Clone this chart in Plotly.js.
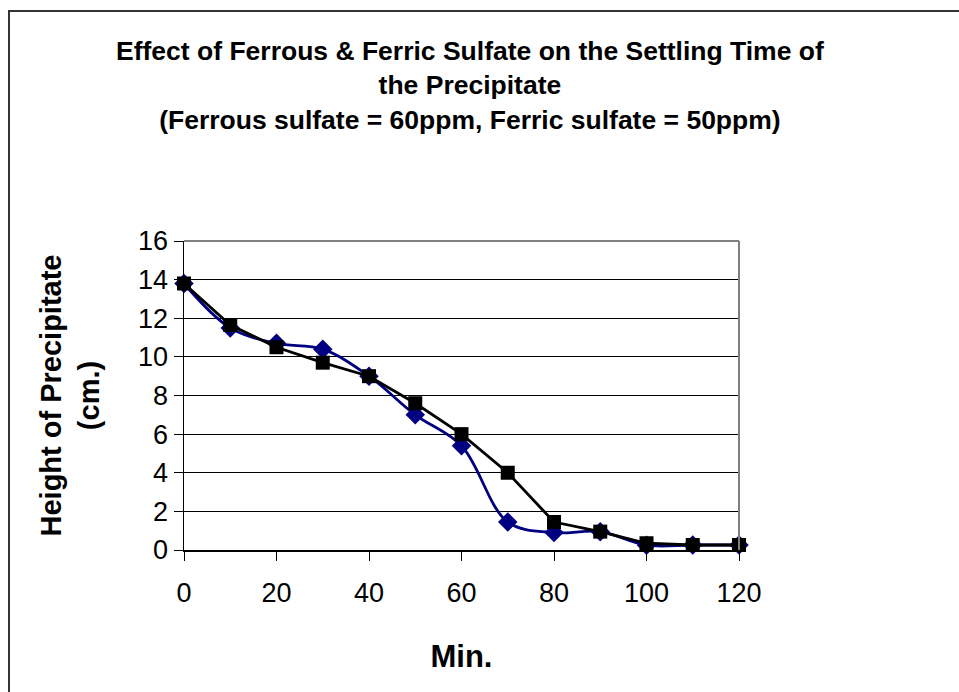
<!DOCTYPE html>
<html>
<head>
<meta charset="utf-8">
<script src="https://cdn.plot.ly/plotly-3.0.1.min.js"></script>
<style>
  html, body { margin: 0; padding: 0; overflow: hidden; background: #fff; }
  #chart { width: 959px; height: 692px; }
  #frame { position: absolute; left: 8px; top: 10px; width: 1200px; height: 1200px;
           border-left: 2px solid #333; border-top: 2px solid #333; pointer-events: none; }
</style>
</head>
<body>
<div id="chart"></div>
<div id="frame"></div>
<script>
const minutes = [0, 10, 20, 30, 40, 50, 60, 70, 80, 90, 100, 110, 120];
const ferrousHeight = [13.8, 11.5, 10.7, 10.4, 9.0, 7.0, 5.4, 1.45, 0.9, 0.95, 0.25, 0.26, 0.26];
const ferricHeight = [13.8, 11.65, 10.5, 9.7, 9.0, 7.6, 6.0, 4.0, 1.45, 0.95, 0.35, 0.26, 0.26];
const xTicks = [0, 20, 40, 60, 80, 100, 120];
const yTicks = [0, 2, 4, 6, 8, 10, 12, 14, 16];

const font = "Liberation Sans, Arial, sans-serif";

const traces = [
  {
    x: minutes, y: ferrousHeight, name: "Ferrous sulfate = 60ppm",
    type: "scatter", mode: "lines+markers",
    line: { color: "#000080", width: 2.8, shape: "spline", smoothing: 1 },
    marker: { symbol: "diamond", size: 15, color: "#000080" },
    cliponaxis: false
  },
  {
    x: minutes, y: ferricHeight, name: "Ferric sulfate = 50ppm",
    type: "scatter", mode: "lines+markers",
    line: { color: "#000000", width: 2.8 },
    marker: { symbol: "square", size: 14, color: "#000000" },
    cliponaxis: false
  }
];

const layout = {
  width: 959, height: 692,
  margin: { l: 184, r: 220, t: 241, b: 142 },
  paper_bgcolor: "#ffffff", plot_bgcolor: "#ffffff",
  showlegend: false,
  font: { family: font, color: "#000" },
  title: {
    text: "<b>Effect of Ferrous & Ferric Sulfate on the Settling Time of<br>the Precipitate<br>(Ferrous sulfate = 60ppm, Ferric sulfate = 50ppm)</b>",
    font: { family: font, size: 26.5, color: "#000" },
    x: 0.49, xref: "container", xanchor: "center",
    y: 1 - 60 / 692, yref: "container", yanchor: "middle"
  },
  xaxis: {
    range: [0, 120], tickvals: xTicks, ticktext: xTicks.map(String),
    showgrid: false, zeroline: false,
    showline: true, linecolor: "#000", linewidth: 1.5,
    ticks: "outside", ticklen: 9, tickcolor: "#000", tickwidth: 1,
    ticklabelstandoff: 9,
    tickfont: { family: font, size: 27, color: "#000" },
    title: { text: "<b>Min.</b>", font: { family: font, size: 31, color: "#000" }, standoff: 38 },
    automargin: false
  },
  yaxis: {
    range: [0, 16], tickvals: yTicks, ticktext: yTicks.map(String),
    showgrid: true, gridcolor: "#000", gridwidth: 1, zeroline: false,
    showline: true, linecolor: "#000", linewidth: 1.5,
    ticks: "outside", ticklen: 9, tickcolor: "#000", tickwidth: 1,
    tickfont: { family: font, size: 27, color: "#000" },
    title: { text: "<b>Height of Precipitate<br>(cm.)</b>", font: { family: font, size: 29, color: "#000" }, standoff: 30 },
    automargin: false
  },
  shapes: [
    { type: "line", xref: "paper", yref: "paper", x0: 0, x1: 1, y0: 1, y1: 1, line: { color: "#808080", width: 2 } },
    { type: "line", xref: "paper", yref: "paper", x0: 1, x1: 1, y0: 0, y1: 1, line: { color: "#808080", width: 2 } }
  ]
};

Plotly.newPlot("chart", traces, layout, { displayModeBar: false, staticPlot: true });
</script>
</body>
</html>
